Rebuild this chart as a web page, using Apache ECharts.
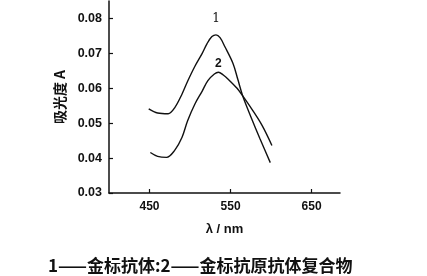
<!DOCTYPE html>
<html><head><meta charset="utf-8">
<script src="https://cdn.jsdelivr.net/npm/echarts@6/dist/echarts.min.js"></script>
<style>html,body{margin:0;padding:0;background:#fff}#c{width:427px;height:276px}</style>
</head><body><div id="c"></div>
<script>
const wl1 = [449, 460, 473, 481, 490, 497, 506, 515, 521, 527, 532, 537, 543, 553, 559, 565, 576, 586, 599];
const abs1 = [0.0541, 0.0529, 0.0527, 0.0544, 0.0583, 0.0620, 0.0663, 0.0700, 0.0728, 0.0748, 0.0753, 0.0745, 0.0719, 0.0671, 0.0625, 0.0578, 0.0513, 0.0457, 0.0387];
const wl2 = [451, 460, 471, 481, 490, 497, 506, 515, 522, 530, 535, 541, 547, 558, 565, 576, 589, 601];
const abs2 = [0.0416, 0.0405, 0.0402, 0.0422, 0.0459, 0.0507, 0.0555, 0.0592, 0.0622, 0.0641, 0.0646, 0.0638, 0.0626, 0.0600, 0.0578, 0.0541, 0.0493, 0.0436];
const xTicks = [450, 550, 650];
const yTicks = [0.03, 0.04, 0.05, 0.06, 0.07, 0.08];
const curveLabels = ['1', '2'];
const yName = '吸光度 A';
const xName = 'λ / nm';
const caption = '1——金标抗体:2——金标抗原抗体复合物';

const chart = echarts.init(document.getElementById('c'));
const fontT = '"Liberation Sans", Arial, sans-serif';
const pairs = (xs, ys) => xs.map((x, i) => [x, ys[i]]);
const peakIdx = a => a.indexOf(Math.max(...a));
chart.setOption({
  animation: false,
  grid: {left: 109, right: 87, top: 1, bottom: 83, containLabel: false},
  xAxis: {
    type: 'value', min: 400, max: 685,
    name: xName, nameLocation: 'middle', nameGap: 30,
    nameTextStyle: {color: '#111', fontSize: 13, fontWeight: 'bold', fontFamily: fontT},
    splitLine: {show: false},
    axisLine: {lineStyle: {color: '#111', width: 1.5}},
    axisTick: {inside: true, length: 4, customValues: xTicks, lineStyle: {color: '#111', width: 1.2}},
    axisLabel: {customValues: xTicks, color: '#111', fontSize: 12, fontWeight: 'bold', fontFamily: fontT, margin: 8}
  },
  yAxis: {
    type: 'value', min: 0.03, max: 0.085,
    name: yName, nameLocation: 'middle', nameGap: 41, nameRotate: 90,
    nameTextStyle: {color: '#111', fontSize: 14, fontWeight: 'bold', fontFamily: '"Noto Sans CJK SC", sans-serif'},
    splitLine: {show: false},
    axisLine: {lineStyle: {color: '#111', width: 1.5}},
    axisTick: {inside: true, length: 4, customValues: yTicks, lineStyle: {color: '#111', width: 1.2}},
    axisLabel: {customValues: yTicks, color: '#111', fontSize: 12.5, fontWeight: 'bold', fontFamily: fontT, margin: 7,
      formatter: v => v.toFixed(2)}
  },
  title: {
    text: caption, left: 48, top: 257, padding: 0,
    textStyle: {color: '#111', fontSize: 17, fontWeight: 'bold', fontFamily: '"Noto Sans CJK SC", sans-serif'}
  },
  series: [
    {type: 'line', data: pairs(wl1, abs1), smooth: 0.35, showSymbol: false,
     lineStyle: {color: '#111', width: 1.4},
     markPoint: {symbol: 'circle', symbolSize: 0, data: [{coord: [wl1[peakIdx(abs1)], abs1[peakIdx(abs1)]],
       label: {show: true, formatter: curveLabels[0], position: 'top', distance: 10, color: '#111', fontSize: 12, fontFamily: '"DejaVu Serif", serif'}}]}},
    {type: 'line', data: pairs(wl2, abs2), smooth: 0.35, showSymbol: false,
     lineStyle: {color: '#111', width: 1.4},
     markPoint: {symbol: 'circle', symbolSize: 0, data: [{coord: [wl2[peakIdx(abs2)], abs2[peakIdx(abs2)]],
       label: {show: true, formatter: curveLabels[1], position: 'top', distance: 3, color: '#111', fontSize: 12, fontWeight: 'bold', fontFamily: fontT}}]}}
  ]
});
</script></body></html>
